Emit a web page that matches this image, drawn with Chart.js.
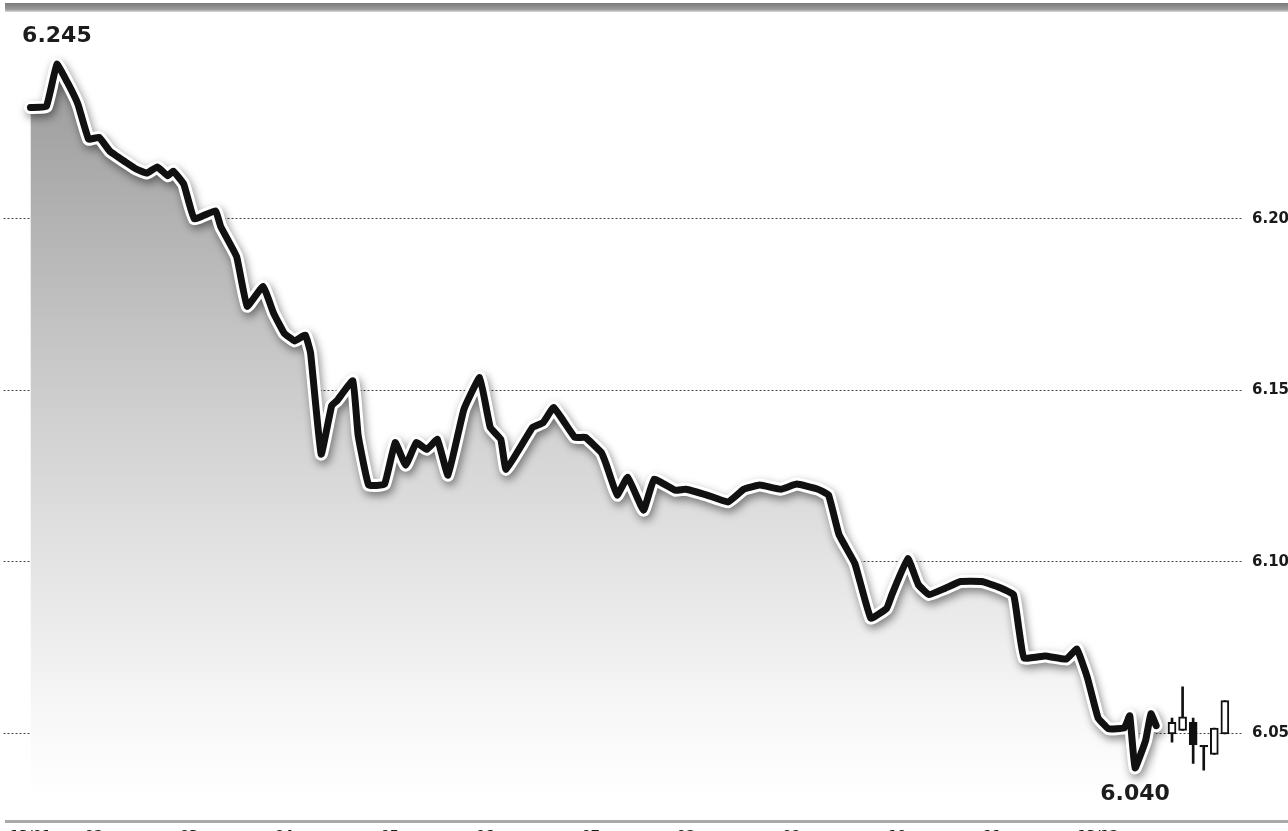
<!DOCTYPE html>
<html>
<head>
<meta charset="utf-8">
<script src="https://cdn.jsdelivr.net/npm/chart.js@4"></script>
<style>
  html, body { margin: 0; padding: 0; background: #fff; overflow: hidden; }
  #wrap { position: absolute; left: 0; top: 0; width: 1320px; height: 860px; }
</style>
</head>
<body>
<div id="wrap"><canvas id="rateChart" width="1320" height="860"></canvas></div>
<script>
// daily fixing, trading-day index on x
const tradingDay = [0, 1.5, 2.5, 3.5, 4.5, 5.5, 6.5, 7.5, 9, 10, 11, 12, 13, 13.5, 14.5, 15.5, 17.5, 18, 19.5, 20.5,
  22, 23, 24, 25, 26, 26.5, 27.5, 28.5, 29, 30.5, 31, 32, 33.5, 34.5, 35.5, 36.5, 37.5, 38.5, 39.5, 41,
  42.5, 43.5, 44.5, 45, 47.5, 48.5, 49.5, 51.5, 52.5, 54, 54.5, 55.5, 56.5, 58, 59, 61, 62, 64, 66, 67.5,
  69, 71, 72.5, 74.5, 75.5, 76.5, 78, 79.5, 81, 81.5, 83, 84, 85, 86.5, 88, 90, 91.5, 93, 93.5, 94,
  96, 98, 99, 100, 101, 102, 103.5, 104, 104.5, 105.5, 106, 106.5];
const rate = [6.2324, 6.2327, 6.2450, 6.2397, 6.2333, 6.2232, 6.2237, 6.2197, 6.2165, 6.2145, 6.2133, 6.2151, 6.2125, 6.2139, 6.2101, 6.2000, 6.2023, 6.1977, 6.1890, 6.1745,
  6.1803, 6.1725, 6.1667, 6.1644, 6.1661, 6.1609, 6.1314, 6.1456, 6.1470, 6.1528, 6.1369, 6.1224, 6.1227, 6.1348, 6.1282, 6.1348, 6.1328, 6.1357, 6.1253, 6.1444,
  6.1537, 6.1392, 6.1357, 6.1270, 6.1392, 6.1406, 6.1450, 6.1363, 6.1363, 6.1319, 6.1282, 6.1195, 6.1247, 6.1151, 6.1241, 6.1209, 6.1212, 6.1195, 6.1175, 6.1212,
  6.1224, 6.1212, 6.1227, 6.1212, 6.1195, 6.1079, 6.0995, 6.0836, 6.0865, 6.0905, 6.1010, 6.0934, 6.0905, 6.0923, 6.0943, 6.0943, 6.0928, 6.0905, 6.0807, 6.0720,
  6.0726, 6.0717, 6.0746, 6.0662, 6.0546, 6.0514, 6.0517, 6.0552, 6.0400, 6.0480, 6.0558, 6.0523];

// last sessions as candles
const candleDay = [108, 109, 110, 111, 112, 113];
const candleOpen = [6.0499, 6.0509, 6.0533, 6.0466, 6.0439, 6.0499];
const candleHigh = [6.0545, 6.0636, 6.0545, 6.0466, 6.0516, 6.0596];
const candleLow = [6.0475, 6.0509, 6.0413, 6.0393, 6.0439, 6.0499];
const candleClose = [6.0533, 6.0549, 6.0468, 6.0461, 6.0516, 6.0596];

const monthTickDay = [0, 6, 15, 24, 34, 43, 53, 62, 72, 82, 91, 101];
const monthLabels = ['13/01', '02', '03', '04', '05', '06', '07', '08', '09', '10', '11', '13/12'];
const rateTicks = [6.05, 6.10, 6.15, 6.20];

const linePoints = tradingDay.map((d, i) => ({ x: d, y: rate[i] }));

const frame = {
  id: 'frame',
  beforeDraw(chart) {
    const c = chart.ctx;
    c.save();
    c.fillStyle = '#fff';
    c.fillRect(0, 0, chart.width, chart.height);
    const g = c.createLinearGradient(0, 3, 0, 12);
    g.addColorStop(0, '#7a7a7a');
    g.addColorStop(0.7, '#9a9a9a');
    g.addColorStop(1, '#d8d8d8');
    c.fillStyle = g;
    c.fillRect(5, 3, chart.width, 9);
    c.fillStyle = '#a9a9a9';
    c.fillRect(5, 820, chart.width, 3);
    c.restore();
  }
};

const haloShadow = {
  id: 'haloShadow',
  beforeDatasetDraw(chart, args) {
    if (chart.data.datasets[args.index].halo) {
      const c = chart.ctx;
      c.save();
      c.shadowColor = 'rgba(0, 0, 0, 0.45)';
      c.shadowBlur = 9;
      c.shadowOffsetX = 2;
      c.shadowOffsetY = 4;
    }
  },
  afterDatasetDraw(chart, args) {
    if (chart.data.datasets[args.index].halo) chart.ctx.restore();
  }
};

const extremeLabels = {
  id: 'extremeLabels',
  afterDatasetsDraw(chart) {
    const c = chart.ctx, xs = chart.scales.x, ys = chart.scales.y;
    const hi = rate.indexOf(Math.max(...rate));
    const lo = rate.indexOf(Math.min(...rate));
    c.save();
    c.font = 'bold 22px "DejaVu Sans"';
    c.fillStyle = '#1c1c1c';
    c.textAlign = 'center';
    c.textBaseline = 'middle';
    c.fillText(rate[hi].toFixed(3), xs.getPixelForValue(tradingDay[hi]), ys.getPixelForValue(rate[hi]) - 28);
    c.fillText(rate[lo].toFixed(3), xs.getPixelForValue(tradingDay[lo]), ys.getPixelForValue(rate[lo]) + 26);
    c.restore();
  }
};

new Chart(document.getElementById('rateChart'), {
  type: 'line',
  data: {
    datasets: [
      {
        data: linePoints,
        borderColor: '#111',
        borderWidth: 7,
        borderJoinStyle: 'round',
        borderCapStyle: 'round',
        pointRadius: 0,
        tension: 0.1,
        fill: false,
        order: 1
      },
      {
        type: 'bar',
        data: candleDay.map((d, i) => ({ x: d, y: [candleOpen[i], candleClose[i]] })),
        backgroundColor: candleClose.map((v, i) => v < candleOpen[i] ? '#111' : '#fff'),
        borderColor: '#111',
        borderWidth: 2,
        borderSkipped: false,
        barThickness: 8,
        grouped: false,
        order: 2
      },
      {
        type: 'bar',
        data: candleDay.map((d, i) => ({ x: d, y: [candleLow[i], candleHigh[i]] })),
        backgroundColor: '#111',
        barThickness: 2,
        grouped: false,
        order: 3
      },
      {
        data: linePoints,
        halo: true,
        borderColor: '#fff',
        borderWidth: 13,
        borderJoinStyle: 'round',
        borderCapStyle: 'round',
        pointRadius: 0,
        tension: 0.1,
        fill: false,
        order: 4
      },
      {
        data: linePoints,
        borderWidth: 0,
        pointRadius: 0,
        tension: 0.1,
        fill: 'start',
        backgroundColor: (ctx) => {
          const g = ctx.chart.ctx.createLinearGradient(0, 60, 0, 800);
          g.addColorStop(0, '#999');
          g.addColorStop(0.21, '#b2b2b2');
          g.addColorStop(0.45, '#cdcdcd');
          g.addColorStop(0.68, '#e4e4e4');
          g.addColorStop(0.89, '#f8f8f8');
          g.addColorStop(1, '#fff');
          return g;
        },
        order: 5
      }
    ]
  },
  options: {
    responsive: false,
    animation: false,
    layout: { padding: { top: 14, right: 0, bottom: 0, left: 0 } },
    scales: {
      x: {
        type: 'linear',
        offset: false,
        min: -2.55,
        max: 114.62,
        afterFit: (s) => { s.height = 42; },
        afterBuildTicks: (s) => { s.ticks = monthTickDay.map(v => ({ value: v })); },
        grid: { display: false, drawTicks: false, offset: false },
        border: { display: false },
        ticks: {
          autoSkip: false,
          maxRotation: 0,
          padding: 10,
          color: '#1a1a1a',
          font: { family: 'DejaVu Sans', size: 13, weight: 'bold' },
          callback: (v, i) => monthLabels[i]
        }
      },
      y: {
        position: 'right',
        min: 6.0254,
        max: 6.2582,
        afterFit: (s) => { s.width = 78; },
        afterBuildTicks: (s) => { s.ticks = rateTicks.map(v => ({ value: v })); },
        grid: { color: '#444', lineWidth: 1, drawTicks: false },
        border: { display: false, dash: [2, 2] },
        ticks: {
          padding: 10,
          color: '#1a1a1a',
          font: { family: 'DejaVu Sans', size: 15, weight: 'bold' },
          callback: (v) => v.toFixed(2)
        }
      }
    },
    plugins: {
      legend: { display: false },
      tooltip: { enabled: false }
    }
  },
  plugins: [frame, haloShadow, extremeLabels]
});
</script>
</body>
</html>
